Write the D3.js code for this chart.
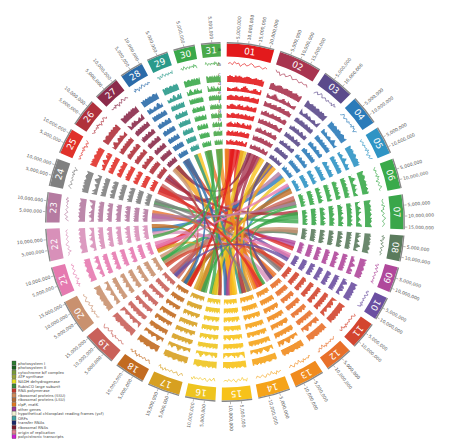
<!DOCTYPE html><html><head><meta charset="utf-8"><script src="https://cdn.jsdelivr.net/npm/d3@7"></script>
<style>body{margin:0;background:#fff}</style></head><body><svg id="c" width="450" height="446"></svg>
<script>
const segments=["01","02","03","04","05","06","07","08","09","10","11","12","13","14","15","16","17","18","19","20","21","22","23","24","25","26","27","28","29","30","31"];
const sizes=[22,20,15,14,13,14,16,12,12,11,13,13,14,15,14,14,15,14,16,16,14,15,14,13,12,13,12,11,10,10,9];
const colors=["#e31a1c","#a8344f","#5b4a8b","#2b7bb9","#2f94c4","#3aaa4a","#3aa64a","#5b7b5d","#b0489b","#6b4fa1","#d3452f","#e8702a","#f08b1e","#f5a31a","#f7c21a","#eec41f","#d7a021","#c26b21","#c9615a","#c9916f","#e57ab0","#d890b9","#b57ba1","#808080","#e0312a","#b0313b","#8b2b4b","#2b6ba9","#2a9a8b","#3aa84a","#4aa94a"];
const trackLetters=["a","b","c","d","e","f","g","h","i"];
const profileLine=[5,6,4,7,5,6,3,5,6,4,5,7,6,4,5,6,5,4,6,5];
const profileC=[8,9,8,7,9,8,9,8,7,8,9,9,8,7,8,9,8,8,9,7];
const profileD=[7,5,4,3,4,5,6,4,3,5,7,8,6,4,3,4,6,7,5,4];
const profileE=[6,7,5,6,7,6,5,7,6,5,6,7,5,6,6,7,5,6,7,6];
const profileF=[5,6,7,5,4,6,7,6,5,4,6,7,5,6,4,5,7,6,5,6];
const profileG=[6,5,6,7,6,5,4,6,7,6,5,6,7,5,6,6,5,7,6,5];
const profileH=[4,6,5,7,6,4,5,6,7,5,4,6,5,7,6,5,4,6,7,5];
const links=[[0,0.2,14,0.5,0.12],[0,0.5,20,0.3,0.1],[0,0.75,12,0.6,0.1],[1,0.3,16,0.4,0.1],[1,0.7,24,0.5,0.08],[2,0.5,18,0.4,0.07],[3,0.5,21,0.6,0.07],[4,0.4,13,0.3,0.07],[5,0.5,19,0.5,0.08],[6,0.4,15,0.6,0.08],[6,0.75,23,0.4,0.06],[7,0.5,17,0.5,0.07],[8,0.5,22,0.5,0.07],[9,0.5,25,0.5,0.06],[10,0.5,27,0.4,0.07],[11,0.4,29,0.5,0.07],[12,0.3,30,0.5,0.08],[13,0.5,26,0.5,0.1],[14,0.3,28,0.5,0.1],[15,0.3,0,0.92,0.09],[16,0.6,2,0.3,0.08],[17,0.3,4,0.7,0.08],[18,0.7,5,0.2,0.08],[19,0.3,7,0.3,0.08],[20,0.7,9,0.3,0.07],[21,0.3,11,0.8,0.07],[22,0.2,3,0.2,0.06],[23,0.6,10,0.7,0.06],[24,0.2,8,0.8,0.06],[25,0.3,6,0.1,0.06],[26,0.6,1,0.1,0.06],[27,0.6,14,0.8,0.06],[28,0.3,13,0.8,0.05],[29,0.3,15,0.8,0.06],[30,0.3,16,0.1,0.05],[12,0.9,0,0.05,0.06],[14,0.1,1,0.9,0.07],[13,0.1,2,0.8,0.06],[15,0.6,3,0.8,0.06],[16,0.85,20,0.1,0.06],[17,0.8,21,0.9,0.06],[18,0.1,24,0.9,0.05],[19,0.8,26,0.2,0.06],[11,0.1,22,0.8,0.06],[10,0.2,19,0.1,0.06],[0,0.35,17,0.2,0.06],[1,0.5,13,0.6,0.06],[2,0.2,11,0.5,0.05],[5,0.8,16,0.3,0.05],[6,0.2,12,0.1,0.05],[8,0.2,14,0.65,0.05],[9,0.8,18,0.3,0.05],[20,0.45,4,0.15,0.05],[22,0.6,5,0.6,0.05],[24,0.6,12,0.35,0.05],[25,0.7,15,0.1,0.05],[27,0.2,17,0.6,0.05],[29,0.7,19,0.6,0.05],[30,0.7,21,0.1,0.05],[23,0.2,13,0.2,0.05]];
const legendLabels=["photosystem I","photosystem II","cytochrome b/f complex","ATP synthase","NADH dehydrogenase","RubisCO large subunit","RNA polymerase","ribosomal proteins (SSU)","ribosomal proteins (LSU)","clpP, matK","other genes","hypothetical chloroplast reading frames (ycf)","ORFs","transfer RNAs","ribosomal RNAs","origin of replication","polycistronic transcripts"];
const legendColors=["#2e7d32","#1b5e20","#7a9a3a","#9aa53a","#e6e020","#3a8a3a","#c0392b","#d08a5a","#b06a3a","#e07a20","#9b3a9b","#f0f0d0","#40a0a0","#1a2a6a","#7a1a2a","#e08090","#d020d0"];

const svg=d3.select("#c"),cx=225,cy=222,k=0.94,g=svg.append("g").attr("transform",`translate(${cx},${cy}) scale(${k})`);
const gap=0.035,total=d3.sum(sizes),avail=2*Math.PI-gap*segments.length;
let a=0.01;const seg=sizes.map((s,i)=>{const st=a,en=a+s/total*avail;a=en+gap;return{i,st,en,size:s};});
const rOut=190,rIn=176;
const arc=d3.arc();
seg.forEach(s=>{
 g.append("path").attr("d",arc({innerRadius:rIn,outerRadius:rOut,startAngle:s.st,endAngle:s.en})).attr("fill",colors[s.i]);
 g.append("path").attr("d",arc({innerRadius:rOut,outerRadius:rOut+1.5,startAngle:s.st,endAngle:s.en})).attr("fill","#888");
 const m=(s.st+s.en)/2,rl=183;
 g.append("text").attr("x",Math.sin(m)*rl).attr("y",-Math.cos(m)*rl).attr("text-anchor","middle").attr("dominant-baseline","central")
  .attr("transform",`rotate(${m*180/Math.PI},${Math.sin(m)*rl},${-Math.cos(m)*rl})`).attr("fill","#fff").attr("font-family","DejaVu Sans").attr("font-size",9.5).text(segments[s.i]);
 const sc=d3.scaleLinear().domain([0,s.size*1e6]).range([s.st,s.en]);
 for(let v=5e6;v<s.size*1e6;v+=5e6){const an=sc(v),r1=rOut+1.5,r2=rOut+4;
  g.append("line").attr("x1",Math.sin(an)*r1).attr("y1",-Math.cos(an)*r1).attr("x2",Math.sin(an)*r2).attr("y2",-Math.cos(an)*r2).attr("stroke","#666").attr("stroke-width",0.5);
  const deg=an*180/Math.PI-90,flip=an>Math.PI;
  g.append("text").attr("transform",`rotate(${deg}) translate(${rOut+5},0)`+(flip?" rotate(180)":"")).attr("text-anchor",flip?"end":"start").attr("dominant-baseline","central")
   .attr("font-size",4.8).attr("font-family","DejaVu Sans").attr("fill","#555").text(d3.format(",")(v));}
 const n=profileLine.length,lx=d3.scaleLinear().domain([0,n-1]).range([s.st+0.01,s.en-0.01]);
 const ry=d3.scaleLinear().domain([0,8]).range([163,172]);
 g.append("path").attr("d",d3.lineRadial().angle((d,j)=>lx(j)).radius((d,j)=>ry(profileLine[(j+s.i*3)%n]))(profileLine))
  .attr("fill","none").attr("stroke",colors[s.i]).attr("stroke-width",0.7);
 const profs=[profileC,profileD,profileE,profileF,profileG,profileH,profileE,profileF];
 profs.forEach((p,t)=>{const base=149-t*9.5,h=8,ys=d3.scaleLinear().domain([0,10]).range([base,base+h]);
  const xs=d3.scaleLinear().domain([0,n]).range([s.st+0.005,s.en-0.005]);
  g.append("path").attr("d",d3.areaRadial().angle(j=>xs(j)).innerRadius(base).outerRadius(j=>ys(p[(j+s.i*5+t)%n])).curve(d3.curveStepAfter)(d3.range(n+1)))
   .attr("fill",colors[s.i]).attr("opacity",0.9);});
});
trackLetters.forEach((l,t)=>{const r=t==0?183:(t==1?168:157-(t-2)*9.5);
 g.append("text").attr("x",-6).attr("y",-r).attr("text-anchor","middle").attr("dominant-baseline","central").attr("font-size",5).attr("font-family","DejaVu Sans").attr("fill","#333").text(l);});
const rc=78;
links.forEach(([s1,p1,s2,p2,w])=>{const A=seg[s1],B=seg[s2];
 const a1=A.st+(A.en-A.st)*p1,a2=B.st+(B.en-B.st)*p2,w1=w/2;
 const pt=(an)=>[Math.sin(an)*rc,-Math.cos(an)*rc];
 const [x1,y1]=pt(a1-w1),[x2,y2]=pt(a1+w1),[x3,y3]=pt(a2-w1),[x4,y4]=pt(a2+w1);
 const d=`M${x1},${y1}A${rc},${rc} 0 0 1 ${x2},${y2}Q0,0 ${x3},${y3}A${rc},${rc} 0 0 1 ${x4},${y4}Q0,0 ${x1},${y1}Z`;
 g.append("path").attr("d",d).attr("fill",colors[s1]).attr("opacity",0.8);});
const lg=svg.append("g").attr("transform","translate(12,361)");
legendLabels.forEach((l,i)=>{lg.append("rect").attr("x",0).attr("y",i*4.6).attr("width",4).attr("height",4).attr("fill",legendColors[i]).attr("stroke","#333").attr("stroke-width",0.3);
 lg.append("text").attr("x",6).attr("y",i*4.6+2).attr("dominant-baseline","central").attr("font-size",3.8).attr("font-family","DejaVu Sans").attr("fill","#444").text(l);});
</script></body></html>
